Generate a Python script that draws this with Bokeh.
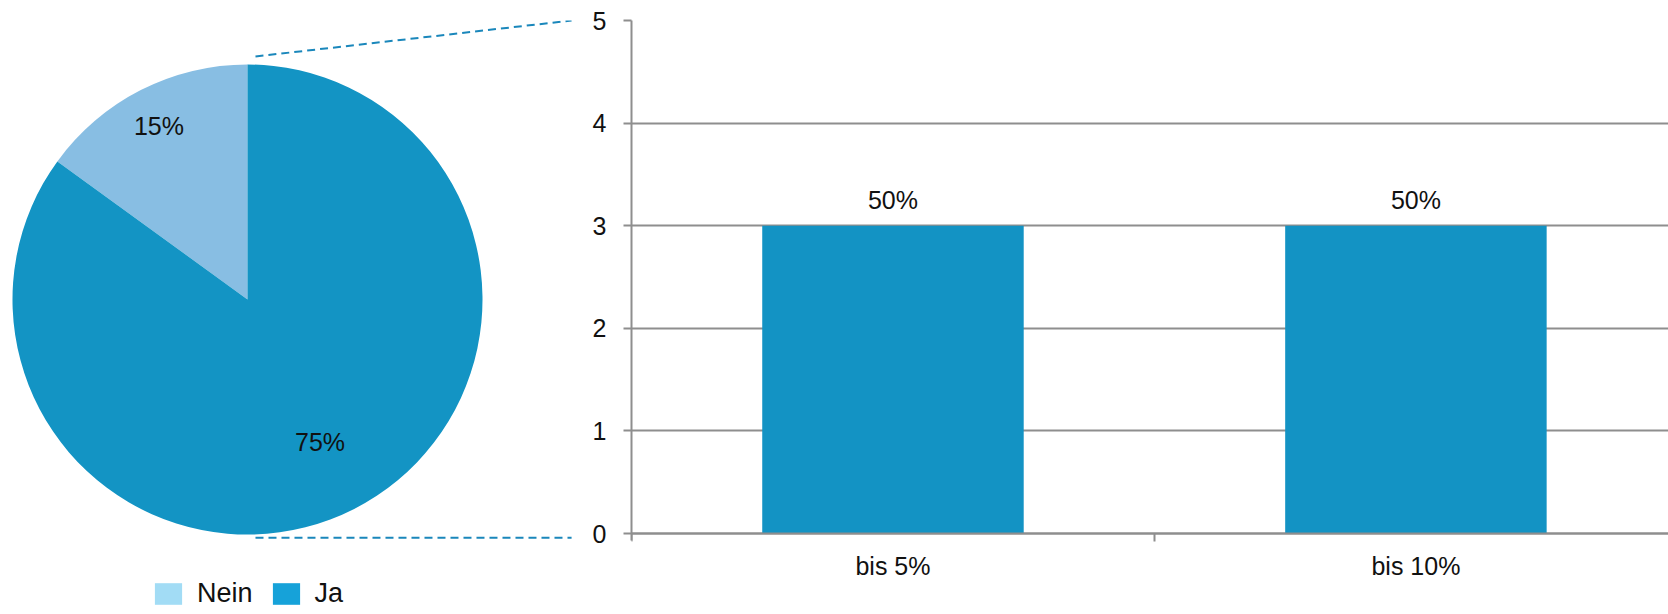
import math
from bokeh.plotting import figure
from bokeh.layouts import row
from bokeh.models import Range1d, FixedTicker, Legend, LegendItem, ColumnDataSource
from bokeh.core.properties import value
from bokeh.embed import file_html
from bokeh.resources import INLINE

# ---- data ----
pie_labels = ["Nein", "Ja"]
pie_share = [15, 85]            # slice size, percent of the full circle
pie_text = ["15%", "75%"]
bar_categories = ["bis 5%", "bis 10%"]
bar_values = [3, 3]
bar_text = ["50%", "50%"]
y_ticks = [0, 1, 2, 3, 4, 5]

# ---- styles ----
FONT = "Liberation Sans"
FS = "25px"
slice_colors = ["#88BEE3", "#1394C4"]
legend_colors = ["#A2DCF5", "#16A2D9"]
label_radius = [0.83, 0.68]
bar_color = "#1393C4"
grid_color = "#8E8E8E"
connector_color = "#1A87BB"
TOP = 20                        # shared frame top border (frames align in a row)

# ---- pie figure ----
pie = figure(width=588, height=614, output_backend="svg", toolbar_location=None,
             x_range=Range1d(-1.051, 1.451), y_range=Range1d(-1.340, 1.187),
             x_axis_location=None, y_axis_location=None,
             min_border_left=0, min_border_right=0, min_border_top=TOP,
             min_border_bottom=0, outline_line_color=None)
pie.grid.visible = False

starts, ends, lx, ly = [], [], [], []
cum = 0.0
for share, r in zip(pie_share, label_radius):
    a0 = math.pi / 2 + cum / 100 * 2 * math.pi
    a1 = a0 + share / 100 * 2 * math.pi
    starts.append(a0)
    ends.append(a1)
    mid = (a0 + a1) / 2
    lx.append(r * math.cos(mid))
    ly.append(r * math.sin(mid))
    cum += share

pie_src = ColumnDataSource(dict(start=starts, end=ends, color=slice_colors,
                                lx=lx, ly=ly, text=pie_text))
pie.wedge(x=0, y=0, radius=1, start_angle="start", end_angle="end",
          fill_color="color", line_color=None, source=pie_src)
pie.text(x="lx", y="ly", text="text", source=pie_src, text_align="center",
         text_baseline="middle", text_font=value(FONT), text_font_size=FS,
         text_color="#111111")

# connector lines from the pie to the bar chart
pie.line(x=[0.034, 1.379], y=[1.034, 1.187], line_color=connector_color,
         line_width=2, line_dash="8 5")
pie.line(x=[0.034, 1.379], y=[-1.013, -1.013], line_color=connector_color,
         line_width=2, line_dash="8 5")

# legend (swatch renderers kept outside the visible range)
items = []
for name, col in zip(pie_labels, legend_colors):
    r = pie.quad(left=[9], right=[9.1], top=[9.1], bottom=[9], fill_color=col,
                 line_color=None)
    items.append(LegendItem(label=name, renderers=[r]))
legend = Legend(items=items, orientation="horizontal", location=(151, 5),
                glyph_width=34, glyph_height=27, label_standoff=12, spacing=16,
                padding=0, margin=0, border_line_color=None,
                background_fill_alpha=0, label_text_font=FONT,
                label_text_font_size="27px", label_text_color="#111111")
pie.add_layout(legend, "center")

# ---- bar figure ----
xs = [i + 0.5 for i in range(len(bar_categories))]
bars = figure(width=1080, height=614, output_backend="svg", toolbar_location=None,
              x_range=Range1d(0, 1.983), y_range=Range1d(-0.789, 5),
              min_border_left=43, min_border_right=0, min_border_top=TOP,
              min_border_bottom=0, outline_line_color=None)
bar_src = ColumnDataSource(dict(x=xs, top=bar_values, text=bar_text))
bars.vbar(x="x", top="top", width=0.5, bottom=0, fill_color=bar_color,
          line_color=None, source=bar_src)
bars.text(x="x", y="top", text="text", source=bar_src, text_align="center",
          text_baseline="bottom", y_offset=-12, text_font=value(FONT),
          text_font_size=FS, text_color="#111111")

bars.ygrid.ticker = FixedTicker(ticks=y_ticks)
bars.ygrid.grid_line_color = grid_color
bars.ygrid.grid_line_width = 2
bars.xgrid.visible = False

ya = bars.yaxis[0]
ya.ticker = FixedTicker(ticks=y_ticks)
ya.bounds = (-0.068, 5)
ya.axis_line_color = grid_color
ya.axis_line_width = 2
ya.major_tick_line_color = grid_color
ya.major_tick_line_width = 2
ya.major_tick_out = 8
ya.major_tick_in = 0
ya.minor_tick_line_color = None
ya.major_label_standoff = 17
ya.major_label_text_font = FONT
ya.major_label_text_font_size = FS
ya.major_label_text_color = "#111111"

xa = bars.xaxis[0]
xa.fixed_location = 0
xa.ticker = FixedTicker(ticks=xs, minor_ticks=list(range(len(bar_categories) + 1)))
xa.major_label_overrides = {x: c for x, c in zip(xs, bar_categories)}
xa.axis_line_color = grid_color
xa.axis_line_width = 2
xa.major_tick_line_color = None
xa.major_tick_out = 0
xa.major_tick_in = 0
xa.minor_tick_line_color = grid_color
xa.minor_tick_line_width = 2
xa.minor_tick_out = 8
xa.minor_tick_in = 0
xa.major_label_standoff = 10
xa.major_label_text_font = FONT
xa.major_label_text_font_size = FS
xa.major_label_text_color = "#111111"

layout = row(pie, bars)
open("out.html", "w").write(file_html(layout, INLINE))
